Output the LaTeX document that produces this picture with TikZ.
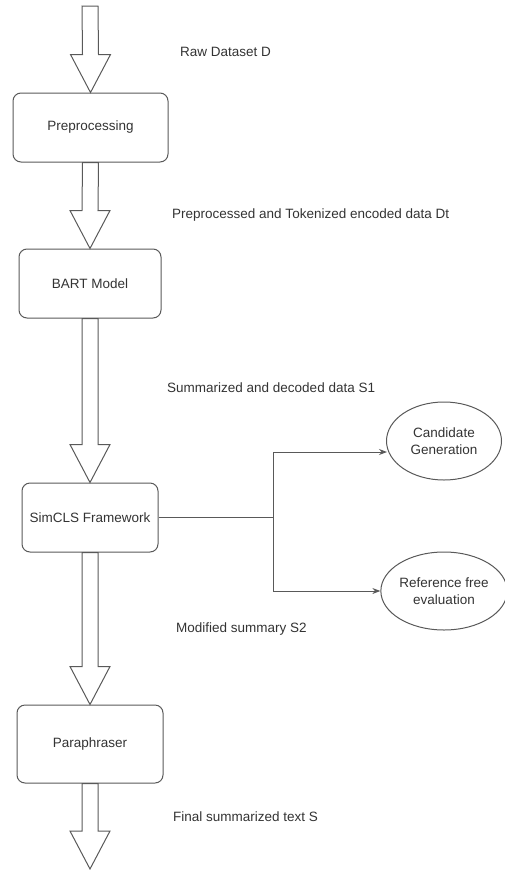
\documentclass[tikz,border=0pt]{standalone}
\usepackage{fontspec}
\setmainfont{Liberation Sans}
\usetikzlibrary{calc, arrows.meta, shapes.geometric}
\definecolor{linegray}{gray}{0.35}
\definecolor{textgray}{gray}{0.2}

\tikzset{
    procbox/.style={draw=linegray, line width=1pt, rounded corners=8pt,
        minimum height=69pt, inner sep=0pt, text=textgray},
    ovalbox/.style={draw=linegray, line width=1pt, ellipse, minimum width=115pt,
        minimum height=78pt, inner sep=0pt, align=center, text=textgray},
    flowlabel/.style={anchor=west, inner sep=0pt, text=textgray},
    branch/.style={draw=linegray, line width=1pt},
    fatarrow/.style={draw=linegray, line width=1pt, line join=miter}
}

% hollow block arrow from #1 (shaft top) to #2 (tip)
\newcommand{\fatarrow}[2]{
    \draw[fatarrow] ($(#1)+(-8,0)$) -- ($(#2)+(-8,-38)$) -- ($(#2)+(-20,-38)$)
        -- (#2) -- ($(#2)+(20,-38)$) -- ($(#2)+(8,-38)$) -- ($(#1)+(8,0)$) -- cycle;
}

\begin{document}
\begin{tikzpicture}[x=1pt, y=-1pt, font=\fontsize{13.5}{17}\selectfont]
    \useasboundingbox (0,0) rectangle (504,870);

    % main flow
    \node [procbox, minimum width=155pt] (pre) at (90.5,127.5) {Preprocessing};
    \node [procbox, minimum width=142pt] (bart) at (90,283.5) {BART Model};
    \node [procbox, minimum width=136pt] (sim) at (90,517.5) {SimCLS Framework};
    \node [procbox, minimum width=146pt, minimum height=78pt] (para) at (90,744) {Paraphraser};

    \coordinate (in) at (90,6);
    \coordinate (out) at (90,869);

    \fatarrow{in}{pre.north}
    \fatarrow{pre.south}{bart.north}
    \fatarrow{bart.south}{sim.north}
    \fatarrow{sim.south}{para.north}
    \fatarrow{para.south}{out}

    % data labels
    \node [flowlabel] (lraw) at (180,52) {Raw Dataset D};
    \node [flowlabel] (ltok) at (172,215) {Preprocessed and Tokenized encoded data Dt};
    \node [flowlabel] (lsum) at (167,388) {Summarized and decoded data S1};
    \node [flowlabel] (lmod) at (176,629) {Modified summary S2};
    \node [flowlabel] (lfin) at (173,817) {Final summarized text S};

    % SimCLS branches
    \node [ovalbox] (cand) at (444,441) {Candidate\\Generation};
    \node [ovalbox] (ref) at (444,591) {Reference free\\evaluation};
    \coordinate (split) at (273,517.5);

    \draw [branch] (sim.east) -- (split);
    \draw [branch, -{Stealth[length=8pt, width=6pt]}] (split) |- ($(cand.west)+(1,11)$);
    \draw [branch, -{Stealth[length=8pt, width=6pt]}] (split) |- (ref.west);
\end{tikzpicture}
\end{document}
